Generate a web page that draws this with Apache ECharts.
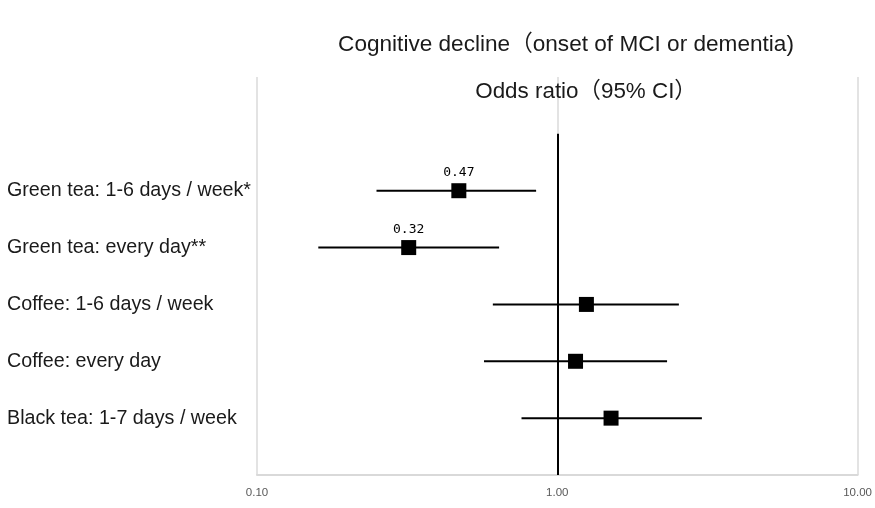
<!DOCTYPE html>
<html>
<head>
<meta charset="utf-8">
<script src="https://cdn.jsdelivr.net/npm/echarts@6/dist/echarts.min.js"></script>
<style>html,body{margin:0;padding:0;background:#fff}#c{width:875px;height:508px}</style>
</head>
<body>
<div id="c"></div>
<script>
var categories = ['Green tea: 1-6 days / week*', 'Green tea: every day**', 'Coffee: 1-6 days / week', 'Coffee: every day', 'Black tea: 1-7 days / week'];
var oddsRatio = [0.47, 0.32, 1.25, 1.15, 1.51];
var ciLow = [0.25, 0.16, 0.61, 0.57, 0.76];
var ciHigh = [0.85, 0.64, 2.54, 2.32, 3.03];
var showLabel = [true, true, false, false, false];

var rowPos = categories.map(function (c, i) { return i + 2; });
var font = "'Liberation Sans', Arial, 'Noto Sans CJK JP', sans-serif";

var chart = echarts.init(document.getElementById('c'), null, {renderer: 'canvas'});
chart.setOption({
  animation: false,
  backgroundColor: '#fff',
  title: [
    {text: 'Cognitive decline（onset of MCI or dementia)', left: 561, top: 28, textAlign: 'center',
     textStyle: {fontFamily: font, fontSize: 22.6, fontWeight: 'normal', color: '#1a1a1a'}},
    {text: 'Odds ratio（95% CI）', left: 581, top: 76, textAlign: 'center',
     textStyle: {fontFamily: font, fontSize: 22.4, fontWeight: 'normal', color: '#1a1a1a'}}
  ],
  grid: {left: 257, right: 15, top: 77, bottom: 33, containLabel: false},
  xAxis: {
    type: 'log', logBase: 10, min: 0.1, max: 10,
    axisLine: {show: true, onZero: false, lineStyle: {color: '#d9d9d9', width: 2}},
    axisTick: {show: false},
    splitLine: {show: true, lineStyle: {color: '#e3e3e3', width: 2}},
    axisLabel: {margin: 12, fontFamily: font, fontSize: 11.5, color: '#595959',
      formatter: function (v) { return v.toFixed(2); }}
  },
  yAxis: {
    type: 'value', min: 0, max: 7, interval: 1, inverse: true,
    axisLine: {show: false}, axisTick: {show: false}, splitLine: {show: false},
    axisLabel: {align: 'left', margin: 250, fontFamily: font, fontSize: 19.7, color: '#1a1a1a',
      formatter: function (v) { var i = v - 2; return (i >= 0 && i < categories.length) ? categories[i] : ''; }}
  },
  series: [
    {
      type: 'custom',
      data: categories.map(function (c, i) { return [ciLow[i], ciHigh[i], rowPos[i]]; }),
      encode: {x: [0, 1], y: 2},
      renderItem: function (params, api) {
        var a = api.coord([api.value(0), api.value(2)]);
        var b = api.coord([api.value(1), api.value(2)]);
        return {type: 'line', shape: {x1: a[0], y1: a[1], x2: b[0], y2: b[1]},
          style: {stroke: '#000', lineWidth: 2}};
      },
      z: 3
    },
    {
      type: 'scatter',
      symbol: 'rect', symbolSize: 15,
      itemStyle: {color: '#000', opacity: 1},
      data: categories.map(function (c, i) {
        return {value: [oddsRatio[i], rowPos[i]],
          label: {show: showLabel[i], position: 'top', distance: 4,
            formatter: function (p) { return p.value[0].toFixed(2); },
            fontFamily: "'DejaVu Sans Mono', monospace", fontSize: 13, color: '#000'}};
      }),
      markLine: {
        silent: true, symbol: 'none', label: {show: false},
        lineStyle: {color: '#000', width: 2, type: 'solid'},
        data: [[{coord: [1, 1]}, {coord: [1, 7]}]]
      },
      z: 4
    }
  ]
});
</script>
</body>
</html>
